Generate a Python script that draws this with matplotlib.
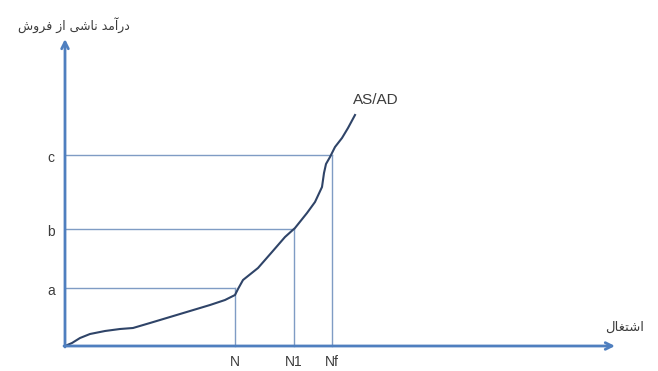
import matplotlib
matplotlib.use("Agg")
import matplotlib.pyplot as plt

# employment (x) and income (y) in arbitrary units
curve_x = [0, 0.7, 1.5, 2.5, 4.0, 5.5, 6.8, 8.5, 10.5, 12.5, 14.5, 16.0, 17.0,
           17.3, 17.8, 19.3, 20.7, 22.0, 23.0, 24.2, 25.0, 25.7, 25.9, 26.1,
           26.5, 27.0, 27.7, 28.3, 29.0]
curve_y = [0, 0.3, 0.8, 1.2, 1.5, 1.7, 1.8, 2.3, 2.9, 3.5, 4.1, 4.6, 5.1,
           5.7, 6.6, 7.8, 9.4, 10.9, 11.8, 13.3, 14.4, 15.9, 17.3, 18.2,
           18.9, 19.9, 20.8, 21.8, 23.1]

levels_x = [17.0, 22.9, 26.7]
levels_y = [5.8, 11.7, 19.1]
x_labels = ["N", "N1", "Nf"]
y_labels = ["a", "b", "c"]

x_title = "اشتغال"
y_title = "درآمد ناشی از فروش"
curve_label = "AS/AD"

x_end = 55.0
y_end = 30.7

# minimal Persian shaping: letter -> (isolated, final, initial, medial)
FORMS = {
    "ا": ("\uFE8D", "\uFE8E", None, None),
    "آ": ("\uFE81", "\uFE82", None, None),
    "د": ("\uFEA9", "\uFEAA", None, None),
    "ر": ("\uFEAD", "\uFEAE", None, None),
    "ز": ("\uFEAF", "\uFEB0", None, None),
    "و": ("\uFEED", "\uFEEE", None, None),
    "م": ("\uFEE1", "\uFEE2", "\uFEE3", "\uFEE4"),
    "ن": ("\uFEE5", "\uFEE6", "\uFEE7", "\uFEE8"),
    "ش": ("\uFEB5", "\uFEB6", "\uFEB7", "\uFEB8"),
    "ت": ("\uFE95", "\uFE96", "\uFE97", "\uFE98"),
    "غ": ("\uFECD", "\uFECE", "\uFECF", "\uFED0"),
    "ل": ("\uFEDD", "\uFEDE", "\uFEDF", "\uFEE0"),
    "ف": ("\uFED1", "\uFED2", "\uFED3", "\uFED4"),
    "ی": ("\uFBFC", "\uFBFD", "\uFBFE", "\uFBFF"),
}


def shape(text):
    out = []
    for i, ch in enumerate(text):
        if ch not in FORMS:
            out.append(ch)
            continue
        prev = text[i - 1] if i > 0 else " "
        nxt = text[i + 1] if i + 1 < len(text) else " "
        f = FORMS[ch]
        join_prev = prev in FORMS and FORMS[prev][2] is not None
        join_next = f[2] is not None and nxt in FORMS
        if join_prev and join_next:
            out.append(f[3])
        elif join_prev:
            out.append(f[1])
        elif join_next:
            out.append(f[2])
        else:
            out.append(f[0])
    return "".join(reversed(out))


axis_color = "#4f7fbf"
guide_color = "#7f9cc4"
curve_color = "#2f4468"
text_color = "#3c3c3c"

fig = plt.figure(figsize=(6.58, 3.71), dpi=100)
ax = fig.add_axes([0, 0, 1, 1])
ax.set_xlim(-6.5, 59.3)
ax.set_ylim(-2.5, 34.6)
ax.axis("off")

# axes arrows
ax.annotate("", xy=(x_end, 0), xytext=(-0.1, 0),
            arrowprops=dict(arrowstyle="->", color=axis_color, lw=2,
                            mutation_scale=12, shrinkA=0, shrinkB=0))
ax.annotate("", xy=(0, y_end), xytext=(0, -0.1),
            arrowprops=dict(arrowstyle="->", color=axis_color, lw=2,
                            mutation_scale=12, shrinkA=0, shrinkB=0))

# guide lines
for gx, gy, xl, yl in zip(levels_x, levels_y, x_labels, y_labels):
    ax.plot([0, gx], [gy, gy], color=guide_color, lw=1)
    ax.plot([gx, gx], [0, gy], color=guide_color, lw=1)
    ax.text(gx, -1.6, xl, ha="center", va="center", fontsize=10,
            color=text_color, family="Liberation Sans")
    ax.text(-1.4, gy - 0.3, yl, ha="center", va="center", fontsize=10,
            color=text_color, family="Liberation Sans")

ax.plot(curve_x, curve_y, color=curve_color, lw=1.5)
ax.text(curve_x[-1] - 0.2, curve_y[-1] + 1.5, curve_label, ha="left",
        va="center", fontsize=11, color=text_color, family="Liberation Sans")

ax.text(0.9, 32.1, shape(y_title), ha="center", va="center", fontsize=9,
        color=text_color, family="DejaVu Sans")
ax.text(56.0, 1.9, shape(x_title), ha="center", va="center", fontsize=9.5,
        color=text_color, family="DejaVu Sans")

fig.savefig("out.png", dpi=100)
